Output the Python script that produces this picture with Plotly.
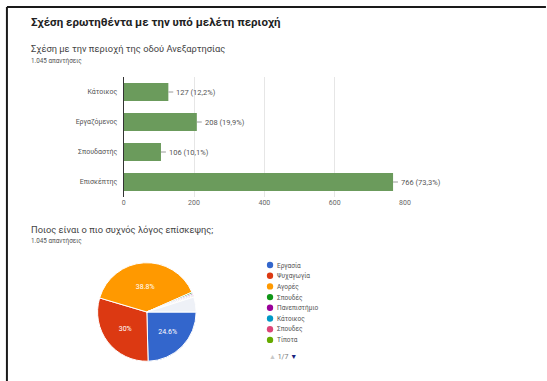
import plotly.graph_objects as go

# Bar chart: relation to the area of Anexartisias street
bar_categories = ["Κάτοικος", "Εργαζόμενος", "Σπουδαστής", "Επισκέπτης"]
bar_values = [127, 208, 106, 766]
bar_percent_labels = ["12,2%", "19,9%", "10,1%", "73,3%"]
x_ticks = [0, 200, 400, 600, 800]

# Pie chart: most frequent reason for visiting
pie_labels = ["Εργασία", "Ψυχαγωγία", "Αγορές", "Σπουδές", "Πανεπιστήμιο",
              "Κάτοικος", "Σπουδες", "Τίποτα", "Άλλες απαντήσεις"]
pie_values = [24.6, 30.0, 38.8, 0.5, 0.4, 0.3, 0.3, 0.2, 4.9]
pie_text = ["24.6%", "30%", "38.8%", "", "", "", "", "", ""]
pie_colors = ["#3366cc", "#dc3912", "#ff9900", "#109618", "#990099",
              "#0099c6", "#dd4477", "#66aa00", "#eef1f7"]
legend_count = 8

W, H = 547, 381
FONT = "Roboto, Arial, sans-serif"


def px_x(x):
    return x / W


def px_y(y):
    return 1 - y / H


fig = go.Figure()

fig.add_trace(go.Bar(
    x=bar_values, y=bar_categories, orientation="h",
    marker=dict(color="#6b9b5c", line=dict(width=0)),
    hoverinfo="x+y", showlegend=False,
))

fig.add_trace(go.Pie(
    labels=pie_labels, values=pie_values, text=pie_text,
    textinfo="text", textposition="inside", insidetextorientation="horizontal",
    textfont=dict(color="white", size=7, family=FONT),
    marker=dict(colors=pie_colors, line=dict(color="white", width=1)),
    sort=False, direction="clockwise", rotation=90,
    domain=dict(x=[px_x(97), px_x(197)], y=[px_y(362), px_y(262)]),
    showlegend=False,
))

shapes = []
annotations = []

# Value labels with short leader lines after each bar
for cat, v, p in zip(bar_categories, bar_values, bar_percent_labels):
    shapes.append(dict(type="line", xref="x", yref="y", x0=v, x1=v + 14,
                       y0=cat, y1=cat, line=dict(color="#9a9a9a", width=1)))
    annotations.append(dict(x=v, y=cat, xref="x", yref="y", xshift=6,
                            text=f"{v} ({p})", showarrow=False, xanchor="left",
                            font=dict(size=7.5, color="#555", family=FONT)))

# Custom legend (first page of entries)
leg_x, leg_y0, leg_dy = 272, 265, 10.7
for i in range(legend_count):
    y = leg_y0 + i * leg_dy
    shapes.append(dict(type="circle", xref="paper", yref="paper",
                       x0=px_x(leg_x - 3.2), x1=px_x(leg_x + 3.2),
                       y0=px_y(y + 3.2), y1=px_y(y - 3.2),
                       fillcolor=pie_colors[i], line=dict(width=0)))
    annotations.append(dict(x=px_x(leg_x + 5), y=px_y(y), xref="paper", yref="paper",
                            text=pie_labels[i], showarrow=False, xanchor="left",
                            yanchor="middle",
                            font=dict(size=6.5, color="#555", family=FONT)))
annotations.append(dict(x=px_x(leg_x - 3.5), y=px_y(357), xref="paper", yref="paper",
                        text="<span style='color:#c8c8c8'>▲</span> 1/7 "
                             "<span style='color:#1a237e'>▼</span>",
                        showarrow=False, xanchor="left", yanchor="middle",
                        font=dict(size=7, color="#777", family=FONT)))

# Titles and response counts
texts = [
    (27, 22, "<b>Σχέση ερωτηθέντα με την υπό μελέτη περιοχή</b>", 11.5, "#222"),
    (27, 48, "Σχέση με την περιοχή της οδού Ανεξαρτησίας", 9.3, "#444"),
    (27, 61, "1.045 απαντήσεις", 6.3, "#555"),
    (27, 229, "Ποιος είναι ο πιο συχνός λόγος επίσκεψης;", 9.3, "#444"),
    (27, 241, "1.045 απαντήσεις", 6.3, "#555"),
]
for x, y, t, s, c in texts:
    annotations.append(dict(x=px_x(x), y=px_y(y), xref="paper", yref="paper",
                            text=t, showarrow=False, xanchor="left", yanchor="middle",
                            font=dict(size=s, color=c, family=FONT)))

# Dark frame along the top and left edges
shapes.append(dict(type="line", xref="paper", yref="paper",
                   x0=px_x(5), x1=px_x(W + 5), y0=px_y(7), y1=px_y(7),
                   line=dict(color="#1a1a1a", width=2)))
shapes.append(dict(type="line", xref="paper", yref="paper",
                   x0=px_x(5), x1=px_x(5), y0=px_y(7), y1=px_y(H + 5),
                   line=dict(color="#1a1a1a", width=2)))

fig.update_layout(
    width=W, height=H,
    margin=dict(l=0, r=0, t=0, b=0),
    paper_bgcolor="white", plot_bgcolor="white",
    font=dict(family=FONT),
    bargap=0.4,
    xaxis=dict(domain=[px_x(123.5), px_x(409)], range=[0, 800],
               tickvals=x_ticks, ticktext=[str(t) for t in x_ticks],
               showgrid=True, gridcolor="#e6e6e6", gridwidth=1,
               zeroline=False, showline=False, ticks="",
               tickfont=dict(size=7, color="#666", family=FONT), fixedrange=True),
    yaxis=dict(domain=[px_y(197), px_y(77)], autorange="reversed",
               showgrid=False, zeroline=False, showline=True,
               linecolor="#333", linewidth=1, ticks="", ticklabelstandoff=4,
               tickfont=dict(size=7, color="#555", family=FONT), fixedrange=True),
    shapes=shapes,
    annotations=annotations,
)

fig.write_html("out.html")
